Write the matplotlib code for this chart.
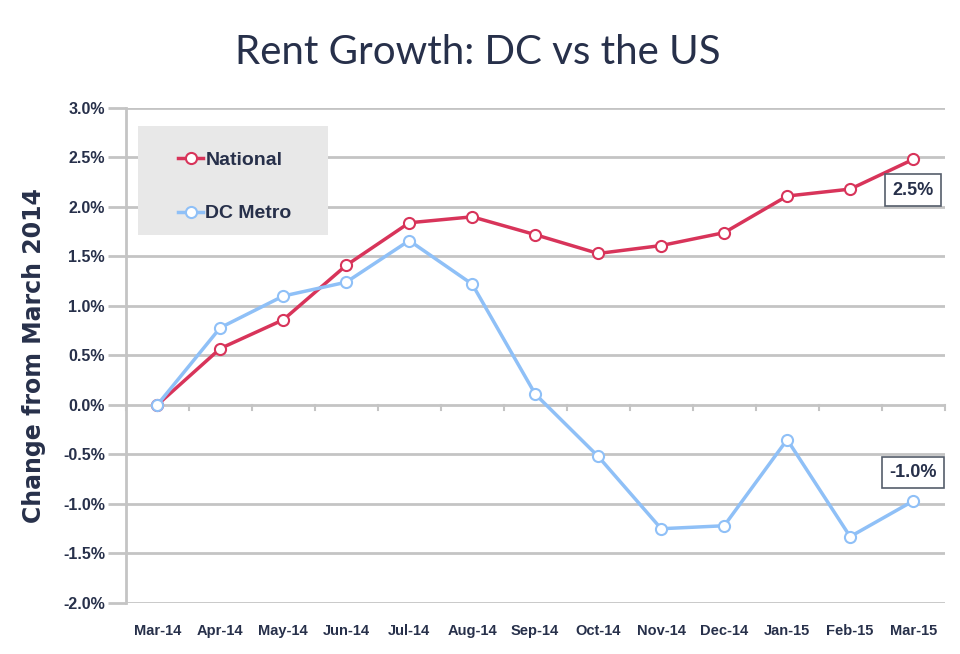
import matplotlib
matplotlib.use("Agg")
import matplotlib.pyplot as plt
from matplotlib.lines import Line2D
from matplotlib.patches import Rectangle

months = ["Mar-14", "Apr-14", "May-14", "Jun-14", "Jul-14", "Aug-14", "Sep-14",
          "Oct-14", "Nov-14", "Dec-14", "Jan-15", "Feb-15", "Mar-15"]
national = [0.0, 0.57, 0.86, 1.41, 1.84, 1.90, 1.72, 1.53, 1.61, 1.74, 2.11, 2.18, 2.48]
dc_metro = [0.0, 0.78, 1.10, 1.24, 1.66, 1.22, 0.11, -0.52, -1.25, -1.22, -0.35, -1.33, -0.97]
yticks = [-2.0, -1.5, -1.0, -0.5, 0.0, 0.5, 1.0, 1.5, 2.0, 2.5, 3.0]

text_col = "#27304a"
red = "#d8345a"
blue = "#8fc0f7"
grid_col = "#c4c4c4"

sans = ["Liberation Sans", "DejaVu Sans"]

fig = plt.figure(figsize=(9.6, 6.54), dpi=100)
ax = fig.add_axes([0.131, 0.078, 0.853, 0.757])

x = list(range(len(months)))
ax.set_xlim(-0.5, len(months) - 0.5)
ax.set_ylim(-2.0, 3.0)

for y in yticks:
    ax.axhline(y, color=grid_col, lw=2, zorder=0)
ax.set_yticks(yticks)
ax.set_yticklabels(["%.1f%%" % v for v in yticks], fontsize=11.5, fontweight="bold",
                   color=text_col, family=sans)
ax.tick_params(axis="y", length=13, width=2, color=grid_col, pad=2)

# category ticks hang from the zero line
for b in range(len(months) + 1):
    ax.plot([b - 0.5, b - 0.5], [0, -0.05], color=grid_col, lw=1.5, zorder=1, clip_on=False)

ax.set_xticks(x)
ax.set_xticklabels(months, fontsize=10.5, fontweight="bold", color=text_col, family=sans)
ax.tick_params(axis="x", length=0, pad=15)

for s in ["top", "right", "bottom"]:
    ax.spines[s].set_visible(False)
ax.spines["left"].set_color(grid_col)
ax.spines["left"].set_linewidth(2)

ax.plot(x, national, color=red, lw=2.5, marker="o", ms=8, mfc="white", mec=red,
        mew=1.5, zorder=3)
ax.plot(x, dc_metro, color=blue, lw=2.5, marker="o", ms=8, mfc="white", mec=blue,
        mew=1.5, zorder=3)

box = dict(boxstyle="square,pad=0.4", fc="white", ec="#555d6b", lw=1.2)
ax.text(x[-1], national[-1] - 0.31, "%.1f%%" % national[-1], ha="center", va="center",
        fontsize=13, fontweight="bold", color=text_col, family=sans, bbox=box, zorder=4)
ax.text(x[-1], dc_metro[-1] + 0.29, "%.1f%%" % dc_metro[-1], ha="center", va="center",
        fontsize=13, fontweight="bold", color=text_col, family=sans, bbox=box, zorder=4)

# grey legend panel
ax.add_patch(Rectangle((0.0147, 0.7434), 0.232, 0.2202, transform=ax.transAxes,
                       fc="#e8e8e8", ec="none", zorder=2))
handles = [
    Line2D([], [], color=red, lw=2.5, marker="o", ms=8, mfc="white", mec=red, mew=1.5),
    Line2D([], [], color=blue, lw=2.5, marker="o", ms=8, mfc="white", mec=blue, mew=1.5),
]
leg = ax.legend(handles, ["National", "DC Metro"], loc="upper left",
                bbox_to_anchor=(0.064, 0.913), frameon=False,
                handlelength=1.3, handletextpad=0.1, labelspacing=1.86,
                borderpad=0, borderaxespad=0,
                prop={"family": sans, "weight": "bold", "size": 14})
leg.set_zorder(5)
for t in leg.get_texts():
    t.set_color(text_col)

ax.set_ylabel("Change from March 2014", fontsize=17, fontweight="bold", color=text_col,
              family=["DejaVu Sans"], labelpad=12)

fig.text(0.498, 0.92, "Rent Growth: DC vs the US", ha="center", va="center",
         fontsize=29, color=text_col, family=["Lato", "DejaVu Sans"])

fig.savefig("out.png", dpi=100)
